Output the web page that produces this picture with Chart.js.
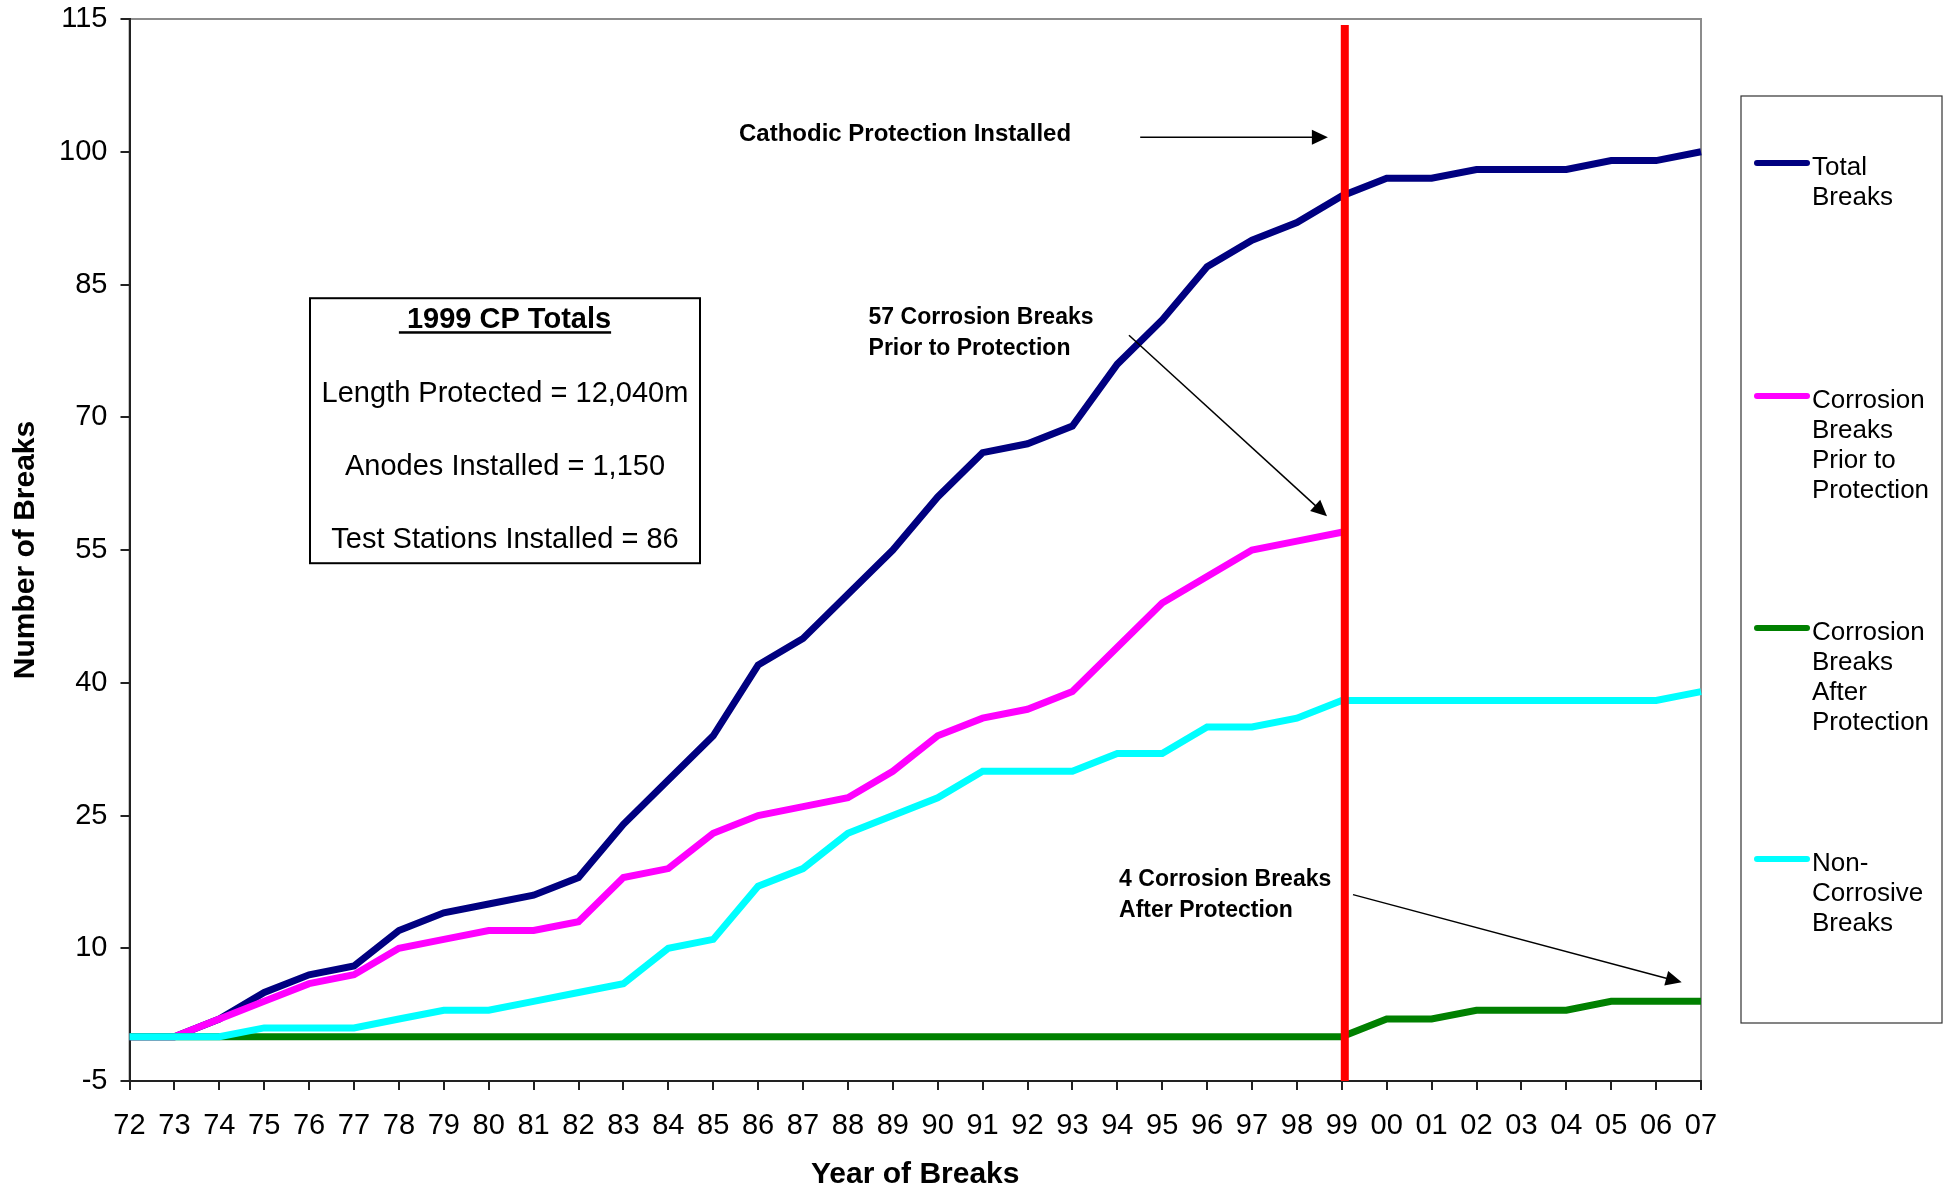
<!DOCTYPE html>
<html>
<head>
<meta charset="utf-8">
<title>Breaks by Year</title>
<script src="https://cdn.jsdelivr.net/npm/chart.js@4.4.1/dist/chart.umd.min.js"></script>
<style>
  html, body { margin: 0; padding: 0; background: #fff; }
  #wrap { width: 1953px; height: 1191px; position: relative; }
</style>
</head>
<body>
<div id="wrap"><canvas id="chart"></canvas></div>
<script>
// === Data ===
const years = ['72','73','74','75','76','77','78','79','80','81','82','83','84','85','86','87','88','89',
               '90','91','92','93','94','95','96','97','98','99','00','01','02','03','04','05','06','07'];
const totalBreaks    = [0,0,2,5,7,8,12,14,15,16,18,24,29,34,42,45,50,55,61,66,67,69,76,81,87,90,92,95,97,97,98,98,98,99,99,100];
const corrosionPrior = [0,0,2,4,6,7,10,11,12,12,13,18,19,23,25,26,27,30,34,36,37,39,44,49,52,55,56,57,
                        null,null,null,null,null,null,null,null];
const corrosionAfter = [0,0,0,0,0,0,0,0,0,0,0,0,0,0,0,0,0,0,0,0,0,0,0,0,0,0,0,0,2,2,3,3,3,4,4,4];
const nonCorrosive   = [0,0,0,1,1,1,2,3,3,4,5,6,10,11,17,19,23,25,27,30,30,30,32,32,35,35,36,38,38,38,38,38,38,38,38,39];
const yTicks = [-5, 10, 25, 40, 55, 70, 85, 100, 115];

const seriesNames  = ['Total Breaks', 'Corrosion Breaks Prior to Protection', 'Corrosion Breaks After Protection', 'Non-Corrosive Breaks'];
const legendLines  = [['Total','Breaks'], ['Corrosion','Breaks','Prior to','Protection'],
                      ['Corrosion','Breaks','After','Protection'], ['Non-','Corrosive','Breaks']];
const seriesColors = ['#000080', '#ff00ff', '#008000', '#00ffff'];
const protectionYear = '99';
const cpTitle = ' 1999 CP Totals';
const cpLines = ['Length Protected = 12,040m', 'Anodes Installed = 1,150', 'Test Stations Installed = 86'];

const FONT = 'Arial, "Liberation Sans", sans-serif';

// draw a line with a filled arrow head at (x2, y2)
function arrow(ctx, x1, y1, x2, y2) {
  const a = Math.atan2(y2 - y1, x2 - x1);
  const len = 16, half = 7.5;
  const c = Math.cos(a), s = Math.sin(a);
  ctx.beginPath();
  ctx.moveTo(x1, y1);
  ctx.lineTo(x2 - c * len * 0.7, y2 - s * len * 0.7);
  ctx.stroke();
  ctx.beginPath();
  ctx.moveTo(x2, y2);
  ctx.lineTo(x2 - c * len + s * half, y2 - s * len - c * half);
  ctx.lineTo(x2 - c * len - s * half, y2 - s * len + c * half);
  ctx.closePath();
  ctx.fill();
}

// plot area border (grey top/right), drawn under the axes
const frame = {
  id: 'frame',
  beforeDraw(chart) {
    const { ctx, chartArea: a } = chart;
    ctx.save();
    ctx.fillStyle = '#fff';
    ctx.fillRect(0, 0, chart.width, chart.height);
    ctx.strokeStyle = '#8c8c8c';
    ctx.lineWidth = 2;
    ctx.strokeRect(a.left, a.top, a.right - a.left, a.bottom - a.top);
    ctx.restore();
  }
};

// red "protection installed" marker
const protectionLine = {
  id: 'protectionLine',
  afterDatasetsDraw(chart) {
    const { ctx, chartArea: a, scales } = chart;
    const x = scales.x.getPixelForValue(years.indexOf(protectionYear)) + 3;
    ctx.save();
    ctx.strokeStyle = '#ff0000';
    ctx.lineWidth = 8;
    ctx.beginPath();
    ctx.moveTo(x, a.top + 6);
    ctx.lineTo(x, a.bottom);
    ctx.stroke();
    ctx.restore();
  }
};

// notes, arrows, totals box and legend
const notes = {
  id: 'notes',
  afterDraw(chart) {
    const { ctx, chartArea: a, scales } = chart;
    const X = v => scales.x.getPixelForValue(v);
    const Y = v => scales.y.getPixelForValue(v);
    ctx.save();
    ctx.fillStyle = '#000';
    ctx.strokeStyle = '#000';
    ctx.textBaseline = 'alphabetic';
    ctx.textAlign = 'left';

    // annotations
    ctx.font = `bold 24px ${FONT}`;
    ctx.fillText('Cathodic Protection Installed', X(13.575), Y(101.19));
    ctx.font = `bold 23px ${FONT}`;
    ctx.fillText('57 Corrosion Breaks', X(16.46), Y(80.51));
    ctx.fillText('Prior to Protection', X(16.46), Y(77.07));
    ctx.fillText('4 Corrosion Breaks', X(22.04), Y(17.06));
    ctx.fillText('After Protection', X(22.04), Y(13.56));

    ctx.lineWidth = 1.5;
    arrow(ctx, X(22.51), Y(101.64), X(26.69), Y(101.64));
    arrow(ctx, X(22.26), Y(79.27), X(26.67), Y(58.82));
    arrow(ctx, X(27.25), Y(16.06), X(34.57), Y(6.15));

    // 1999 CP totals box
    const bx = X(4.02), by = Y(83.45), bw = 390, bh = 265;
    ctx.fillStyle = '#fff';
    ctx.fillRect(bx, by, bw, bh);
    ctx.lineWidth = 2;
    ctx.strokeRect(bx, by, bw, bh);
    ctx.fillStyle = '#000';
    ctx.textAlign = 'center';
    const cx = bx + bw / 2;
    ctx.font = `bold 29px ${FONT}`;
    ctx.fillText(cpTitle, cx, by + 30);
    const tw = ctx.measureText(cpTitle).width;
    ctx.fillRect(cx - tw / 2, by + 33, tw, 2.5);
    ctx.font = `29px ${FONT}`;
    cpLines.forEach((t, i) => ctx.fillText(t, cx, by + 104 + i * 73));

    // legend
    const lx = a.right + 40, ly = 96, lw = 201, lh = 927;
    ctx.lineWidth = 1.2;
    ctx.strokeStyle = '#333';
    ctx.strokeRect(lx, ly, lw, lh);
    const rows = [163, 396, 628, 859];
    ctx.textAlign = 'left';
    ctx.textBaseline = 'middle';
    ctx.font = `26px ${FONT}`;
    ctx.lineCap = 'round';
    rows.forEach((ry, i) => {
      ctx.strokeStyle = seriesColors[i];
      ctx.lineWidth = 6;
      ctx.beginPath();
      ctx.moveTo(lx + 16, ry);
      ctx.lineTo(lx + 66, ry);
      ctx.stroke();
      ctx.fillStyle = '#000';
      legendLines[i].forEach((t, j) => ctx.fillText(t, lx + 71, ry + 5 + j * 30));
    });
    ctx.restore();
  }
};

Chart.defaults.color = '#000';
Chart.defaults.font.family = FONT;

const series = [totalBreaks, corrosionPrior, corrosionAfter, nonCorrosive];
new Chart(document.getElementById('chart'), {
  type: 'line',
  data: {
    labels: years,
    datasets: series.map((d, i) => ({
      label: seriesNames[i],
      data: d,
      borderColor: seriesColors[i],
      backgroundColor: seriesColors[i],
      borderWidth: 7,
      pointRadius: 0,
      tension: 0,
      fill: false,
      order: 4 - i   // later series on top, like the original
    }))
  },
  options: {
    responsive: true,
    maintainAspectRatio: false,
    animation: false,
    layout: { padding: { left: 8, right: 252, top: 19, bottom: 0 } },
    plugins: { legend: { display: false }, tooltip: { enabled: false } },
    scales: {
      x: {
        offset: false,
        grid: { drawOnChartArea: false, color: '#222', lineWidth: 2, tickLength: 9, offset: false },
        border: { color: '#222', width: 2 },
        ticks: { font: { size: 29 }, padding: 19, maxRotation: 0, autoSkip: false },
        title: { display: true, text: 'Year of Breaks', font: { size: 30, weight: 'bold', lineHeight: 1.1 }, padding: { top: 0, bottom: 0 } },
        afterFit(s) { s.height = 110; }
      },
      y: {
        min: -5,
        max: 115,
        afterBuildTicks(s) { s.ticks = yTicks.map(v => ({ value: v })); },
        grid: { drawOnChartArea: false, color: '#222', lineWidth: 2, tickLength: 9 },
        border: { color: '#222', width: 2 },
        ticks: { font: { size: 29 }, padding: 13 },
        title: { display: true, text: 'Number of Breaks', font: { size: 30, weight: 'bold' }, padding: { top: 0, bottom: 0 } },
        afterFit(s) { s.width = 121.5; s.paddingTop = 0; s.paddingBottom = 0; }
      }
    }
  },
  plugins: [frame, protectionLine, notes]
});
</script>
</body>
</html>
